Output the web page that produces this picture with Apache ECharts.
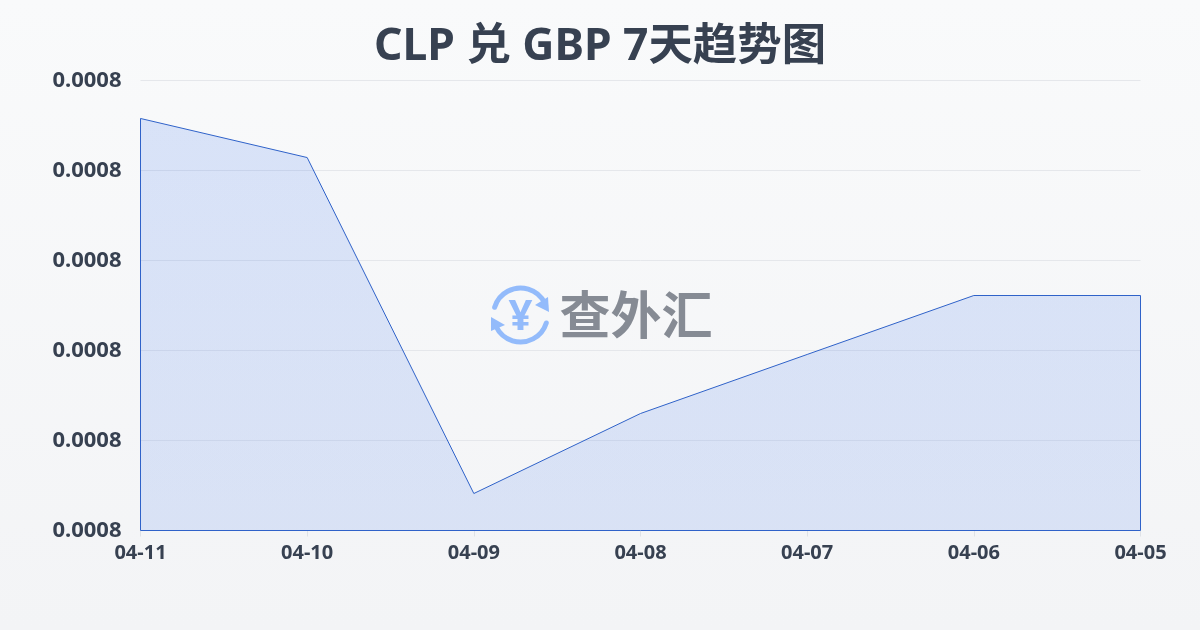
<!DOCTYPE html>
<html>
<head>
<meta charset="utf-8">
<title>CLP 兑 GBP 7天趋势图</title>
<script src="https://cdn.jsdelivr.net/npm/echarts@6/dist/echarts.min.js"></script>
<style>
html,body{margin:0;padding:0;}
#main{width:1200px;height:630px;}
</style>
</head>
<body>
<div id="main"></div>
<script>
var dates = ['04-11','04-10','04-09','04-08','04-07','04-06','04-05'];
var rates = [0.00082578,0.00082144,0.00078411,0.00079300,0.00079956,0.00080611,0.00080611];
var axisMin = 0.00078;
var axisMax = 0.00083;
var axisStep = 0.00001;

var font = '"Noto Sans","Noto Sans CJK SC",sans-serif';
var textColor = '#374151';
var iconColor = '#93bbfb';

// 线条沿面积一圈闭合: 左下角 -> 各点 -> 右下角 -> 回到左下角
var outline = [[0,axisMin]];
rates.forEach(function(v,i){
	outline.push([i,v]);
});
outline.push([dates.length-1,axisMin]);
outline.push([0,axisMin]);

var chart = echarts.init(document.getElementById('main'));
chart.setOption({
	animation:false,
	backgroundColor:new echarts.graphic.LinearGradient(0,0,0,1,[
		{offset:0,color:'#f9fafb'},
		{offset:1,color:'#f3f4f6'}
	]),
	title:{
		text:'CLP 兑 GBP 7天趋势图',
		left:'center',
		top:20,
		textStyle:{color:textColor,fontSize:44.4,fontWeight:'bold',fontFamily:font}
	},
	grid:{left:140.5,right:59.5,top:80.5,bottom:99.5},
	xAxis:{
		type:'category',
		boundaryGap:false,
		data:dates,
		axisLine:{show:false},
		axisTick:{show:true,length:6,lineStyle:{color:'#dfe2e7',width:1}},
		axisLabel:{color:textColor,fontSize:20,fontWeight:'bold',fontFamily:font,margin:13,interval:0,hideOverlap:false}
	},
	yAxis:{
		type:'value',
		min:axisMin,
		max:axisMax,
		interval:axisStep,
		axisLine:{show:false},
		axisTick:{show:false},
		splitLine:{show:true,lineStyle:{color:'#e5e7eb',width:1}},
		axisLabel:{
			color:textColor,fontSize:22,fontWeight:'bold',fontFamily:font,margin:19,padding:[0,0,2,0],
			formatter:function(v){return v.toFixed(4);}
		}
	},
	series:[{
		type:'line',
		data:outline,
		showSymbol:false,
		smooth:false,
		clip:false,
		lineStyle:{color:'#2f62c9',width:1},
		areaStyle:{
			opacity:1,
			color:new echarts.graphic.LinearGradient(0,0,0,1,[
				{offset:0,color:'rgba(37,99,235,0.15)'},
				{offset:1,color:'rgba(37,99,235,0.13)'}
			])
		}
	}],
	graphic:[
		{type:'arc',z:50,shape:{cx:520.5,cy:315,r:27,startAngle:-2.85,endAngle:-0.45},style:{stroke:iconColor,lineWidth:5,fill:null,lineCap:'round'}},
		{type:'arc',z:50,shape:{cx:520.5,cy:315,r:27,startAngle:0.3,endAngle:2.7},style:{stroke:iconColor,lineWidth:5,fill:null,lineCap:'round'}},
		{type:'polygon',z:50,shape:{points:[[548,297],[549,312],[535,305]]},style:{fill:iconColor}},
		{type:'polygon',z:50,shape:{points:[[491,317],[491,331],[505,325]]},style:{fill:iconColor}},
		{type:'text',z:50,x:520.5,y:318,style:{text:'¥',fill:iconColor,font:'bold 42px '+font,align:'center',verticalAlign:'middle'}},
		{type:'text',z:50,x:636,y:315,style:{text:'查外汇',fill:'#868b94',font:'bold 51px "Noto Sans CJK SC",sans-serif',align:'center',verticalAlign:'middle'}}
	]
});
</script>
</body>
</html>
